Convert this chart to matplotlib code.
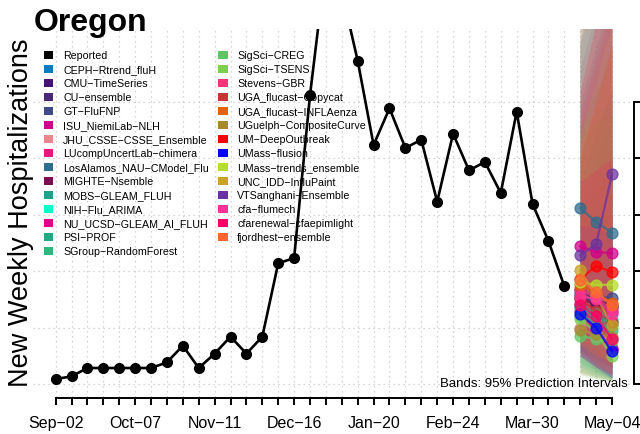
import matplotlib
matplotlib.use("Agg")
import matplotlib.pyplot as plt
from matplotlib.patches import Rectangle

plt.rcParams['font.family'] = ['Liberation Sans', 'DejaVu Sans']

# ---------------- data ----------------
tick_labels = ["Sep\u221202", "Oct\u221207", "Nov\u221211", "Dec\u221216",
               "Jan\u221220", "Feb\u221224", "Mar\u221230", "May\u221204"]
n_weeks = 36  # Sep-02 .. May-04, weekly

reported = [4.4, 6.8, 14.2, 14.2, 14.2, 14.2, 14.2, 19.2, 34.0, 14.2,
            26.9, 42.0, 26.9, 42.0, 107.0, 111.7, 256.0, 373.0, 348.0, 286.6,
            211.9, 244.4, 209.2, 216.6, 161.6, 221.9, 189.4, 196.8, 169.3, 241.4,
            159.6, 126.8, 86.6]

fc_weeks = [33, 34, 35]

models = ["CEPH\u2212Rtrend_fluH", "CMU\u2212TimeSeries", "CU\u2212ensemble", "GT\u2212FluFNP",
          "ISU_NiemiLab\u2212NLH", "JHU_CSSE\u2212CSSE_Ensemble", "LUcompUncertLab\u2212chimera",
          "LosAlamos_NAU\u2212CModel_Flu", "MIGHTE\u2212Nsemble", "MOBS\u2212GLEAM_FLUH",
          "NIH\u2212Flu_ARIMA", "NU_UCSD\u2212GLEAM_AI_FLUH", "PSI\u2212PROF", "SGroup\u2212RandomForest",
          "SigSci\u2212CREG", "SigSci\u2212TSENS", "Stevens\u2212GBR", "UGA_flucast\u2212Copycat",
          "UGA_flucast\u2212INFLAenza", "UGuelph\u2212CompositeCurve", "UM\u2212DeepOutbreak",
          "UMass\u2212flusion", "UMass\u2212trends_ensemble", "UNC_IDD\u2212InfluPaint",
          "VTSanghani\u2212Ensemble", "cfa\u2212flumech", "cfarenewal\u2212cfaepimlight",
          "fjordhest\u2212ensemble"]

colors = ["#0A7BBF", "#46146B", "#482878", "#3E4A89", "#D0008A", "#E8878E", "#E6187E",
          "#2E6E8E", "#7A0F52", "#21A08A", "#00FFCC", "#E0008A", "#22A884", "#2EB67D",
          "#5DC863", "#7AD151", "#FF3377", "#CC3333", "#E66100", "#A6892F", "#FF0000",
          "#0000FF", "#B5DE2B", "#C9A227", "#6A33A0", "#FF3399", "#FF0066", "#FF6633"]

median = [[80, 72, 68], [84, 74, 70], [78, 72, 68], [82, 78, 76], [122, 117, 116],
          [50, 42, 40], [72, 47, 32], [156, 143.6, 133.9], [76, 70, 64], [70, 62, 55],
          [66, 63, 58], [65, 47, 31], [68, 60, 52], [60, 55, 48], [42.6, 40, 38],
          [58, 45, 25], [84, 76, 66], [75, 65, 55], [88, 80, 72], [48, 44, 42],
          [93, 104.6, 99.3], [62, 50, 29], [90, 88, 88], [101, 78, 52], [114, 124, 186],
          [78, 75, 62], [70, 60, 40], [92, 82, 70]]

lower = [[30, 22, 15], [40, 28, 20], [25, 15, 8], [35, 25, 18], [55, 40, 30],
         [8, 5, 3], [30, 15, 6], [80, 60, 45], [30, 20, 12], [20, 12, 6],
         [18, 10, 5], [25, 12, 4], [15, 8, 4], [12, 7, 3], [8, 4, 2],
         [10, 5, 2], [35, 25, 15], [25, 15, 8], [35, 25, 15], [10, 6, 3],
         [45, 40, 30], [25, 15, 5], [35, 25, 20], [35, 18, 8], [45, 40, 50],
         [25, 15, 8], [28, 18, 8], [40, 28, 18]]

upper = [[170, 200, 240], [150, 170, 190], [250, 300, 350], [180, 220, 260], [280, 330, 380],
         [420, 460, 500], [160, 170, 180], [330, 380, 430], [170, 190, 210], [200, 230, 260],
         [180, 210, 240], [150, 150, 150], [300, 350, 400], [228, 260, 300], [230, 240, 250],
         [225, 230, 240], [230, 280, 330], [240, 290, 340], [260, 320, 380], [420, 480, 550],
         [200, 250, 300], [140, 140, 130], [220, 270, 320], [360, 420, 480], [300, 380, 500],
         [260, 320, 380], [180, 190, 200], [210, 250, 300]]

y_grid = [0, 50, 100, 150, 200, 250]

# ---------------- figure ----------------
W, H = 640, 435
fig = plt.figure(figsize=(W / 100, H / 100), dpi=100)
ax_l, ax_r, ax_t, ax_b = 33.4, 634.3, 30, 398
ax = fig.add_axes([ax_l / W, 1 - ax_b / H, (ax_r - ax_l) / W, (ax_b - ax_t) / H])
ax.set_xlim(-1.4, 36.4)
ax.set_ylim(-11.5, 314.7)

# grid
grid_kw = dict(color="#C8C8C8", lw=0.9, linestyle=(0, (1, 3)), zorder=0)
for w in range(n_weeks):
    ax.axvline(w, **grid_kw)
for g in y_grid:
    ax.axhline(g, **grid_kw)

# prediction bands
for lo, hi, c in zip(lower, upper, colors):
    ax.fill_between(fc_weeks, lo, hi, color=c, alpha=0.14, lw=0, zorder=1)

# reported
ax.plot(range(len(reported)), reported, color="black", lw=1.9, marker="o",
        markersize=7, zorder=5, clip_on=True)

# forecasts
for med, c in zip(median, colors):
    ax.plot(fc_weeks, med, color=c, lw=1.6, marker="o", markersize=7.8,
            alpha=0.75, zorder=4)

# axes styling
for s in ["left", "top"]:
    ax.spines[s].set_visible(False)
ax.spines["bottom"].set_bounds(0, n_weeks - 1)
ax.spines["right"].set_bounds(y_grid[0], y_grid[-1])
ax.spines["bottom"].set_linewidth(1.4)
ax.spines["right"].set_linewidth(1.4)
ax.spines["bottom"].set_position(("outward", 1))

ax.set_xticks(range(n_weeks))
ax.set_xticklabels([tick_labels[i // 5] if i % 5 == 0 else "" for i in range(n_weeks)])
ax.tick_params(axis="x", length=5, width=1.4, pad=7, labelsize=11.5, direction="out")
ax.yaxis.tick_right()
ax.set_yticks(y_grid)
ax.tick_params(axis="y", length=5, width=1.4, labelright=False, labelleft=False, direction="out")

fig.text(628 / W, 1 - 384 / H, "Bands: 95% Prediction Intervals", fontsize=9.5,
         ha="right", va="center", zorder=6)

# title & y label
fig.text(34 / W, 1 - 31 / H, "Oregon", fontsize=23, fontweight="bold", ha="left", va="baseline")
fig.text(21 / W, 1 - 213 / H, "New Weekly Hospitalizations", fontsize=19.5, rotation=90,
         ha="center", va="center")

# legend (manual)
entries = ["Reported"] + models
entry_colors = ["#000000"] + colors
col1_n = 15
for i, (lab, c) in enumerate(zip(entries, entry_colors)):
    col = 0 if i < col1_n else 1
    row = i if i < col1_n else i - col1_n
    yc = 56 + row * 13.97
    xs = 43.5 if col == 0 else 218
    xt = 63 if col == 0 else 237
    fig.add_artist(Rectangle((xs / W, 1 - (yc + 4) / H), 9.5 / W, 8 / H,
                             transform=fig.transFigure, color=c, lw=0, zorder=3))
    fig.text(xt / W, 1 - yc / H, lab, fontsize=7.7, ha="left", va="center", zorder=3)

fig.savefig("out.png", dpi=100)
